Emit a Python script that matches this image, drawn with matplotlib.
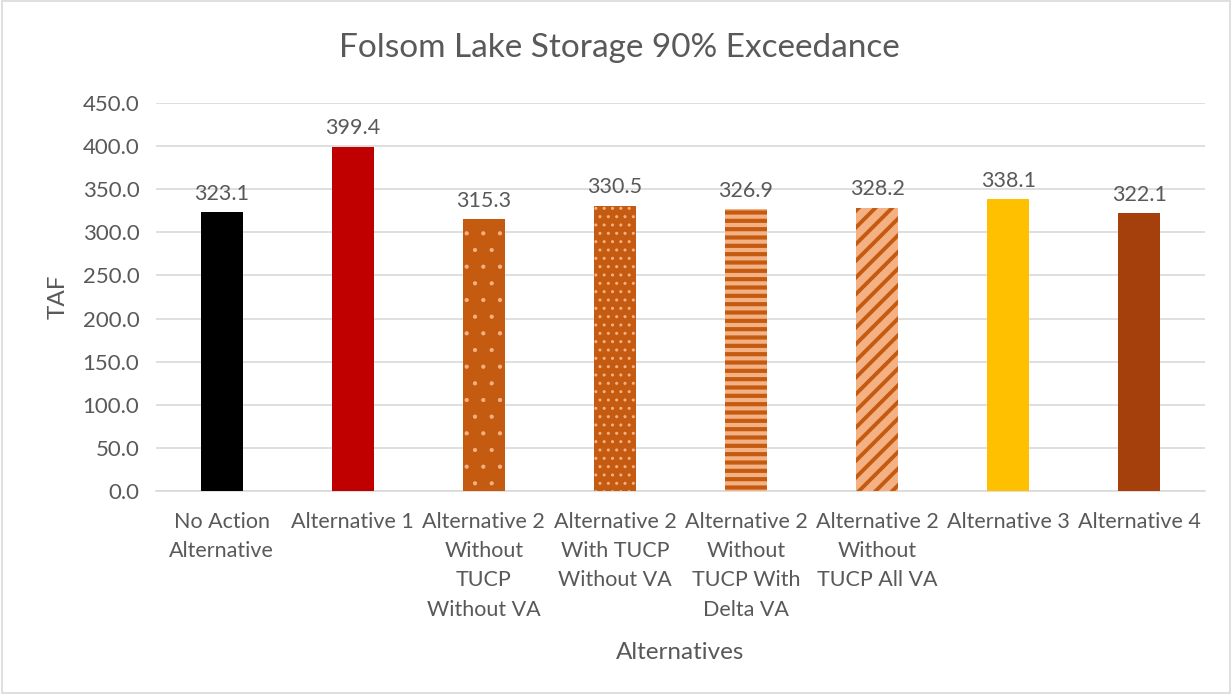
import matplotlib
matplotlib.use("Agg")
import matplotlib.pyplot as plt
from matplotlib.patches import Rectangle

categories = ["No Action\nAlternative", "Alternative 1", "Alternative 2\nWithout\nTUCP\nWithout VA",
              "Alternative 2\nWith TUCP\nWithout VA", "Alternative 2\nWithout\nTUCP With\nDelta VA",
              "Alternative 2\nWithout\nTUCP All VA", "Alternative 3", "Alternative 4"]
values = [323.1, 399.4, 315.3, 330.5, 326.9, 328.2, 338.1, 322.1]

# face, hatch colour, hatch, hatch width
faces = ["#000000", "#C00000", "#C55A11", "#C55A11", "#F4B183", "#F4B183", "#FFC000", "#A5400C"]
hatch_cols = ["#000000", "#C00000", "#F4B183", "#F4B183", "#C55A11", "#C55A11", "#FFC000", "#A5400C"]
hatches = [None, None, ".", "..", "--", "//", None, None]
hatch_lw = [1, 1, 0.6, 1.0, 3.0, 2.8, 1, 1]

txt = "#595959"
plt.rcParams["font.family"] = ["Lato", "DejaVu Sans"]

fig = plt.figure(figsize=(12.32, 6.94), dpi=100)
ax = fig.add_axes([156 / 1232, 1 - 491 / 694, (1205 - 156) / 1232, (491 - 103) / 694])

for i, v in enumerate(values):
    plt.rcParams["hatch.linewidth"] = hatch_lw[i]
    bars = ax.bar(i, v, width=0.32, color=faces[i], edgecolor=hatch_cols[i], linewidth=0,
                  hatch=hatches[i], zorder=3)
    for b in bars:
        if hasattr(b, "set_hatch_linewidth"):
            b.set_hatch_linewidth(hatch_lw[i])
        else:
            b._hatch_linewidth = hatch_lw[i]
    ax.text(i, v + 10, f"{v:.1f}", ha="center", va="bottom", fontsize=15.5, color=txt)

ax.set_xlim(-0.5, len(values) - 0.5)
ax.set_ylim(0, 450)
ax.set_yticks(range(0, 451, 50))
ax.set_yticklabels([f"{t:.1f}" for t in range(0, 451, 50)], fontsize=16, color=txt)
ax.set_xticks(range(len(values)))
ax.set_xticklabels(categories, fontsize=15.5, color=txt, linespacing=1.58, va="top")
ax.tick_params(length=0, pad=12)
ax.tick_params(axis="x", pad=15)
ax.grid(axis="y", color="#D9D9D9", linewidth=1.2, zorder=0)
for s in ["top", "right", "left"]:
    ax.spines[s].set_visible(False)
ax.spines["bottom"].set_color("#D9D9D9")
ax.spines["bottom"].set_linewidth(1.2)

ax.set_ylabel("TAF", fontsize=17.5, color=txt, labelpad=10)
ax.set_xlabel("Alternatives", fontsize=17.5, color=txt, labelpad=16)
fig.text(0.503, 1 - 48 / 694, "Folsom Lake Storage 90% Exceedance", ha="center", va="center",
         fontsize=24, color=txt)

fig.patches.append(Rectangle((0.002, 0.002), 0.996, 0.996, transform=fig.transFigure,
                             fill=False, edgecolor="#D9D9D9", linewidth=1.2))

fig.savefig("out.png", dpi=100, facecolor="white")
